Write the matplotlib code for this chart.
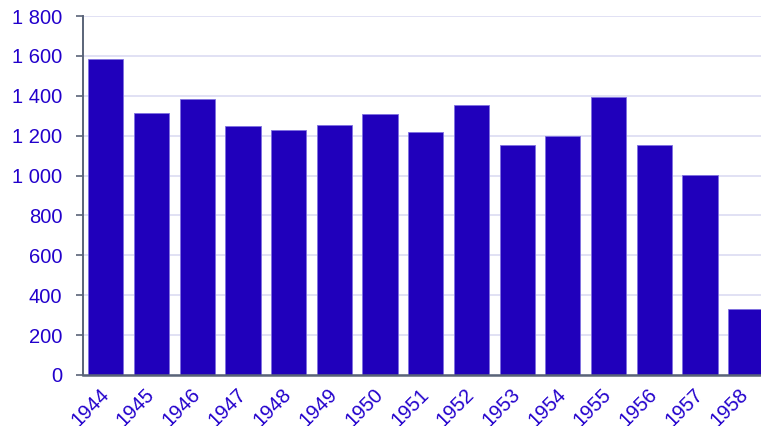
import matplotlib
matplotlib.use("Agg")
import matplotlib.pyplot as plt
from matplotlib.ticker import FuncFormatter

years = ["1944", "1945", "1946", "1947", "1948", "1949", "1950", "1951",
         "1952", "1953", "1954", "1955", "1956", "1957", "1958"]
values = [1585, 1315, 1385, 1250, 1230, 1255, 1310, 1220,
          1353, 1153, 1198, 1392, 1153, 1003, 330]
yticks = [0, 200, 400, 600, 800, 1000, 1200, 1400, 1600, 1800]

plt.rcParams['font.family'] = ['Liberation Sans', 'DejaVu Sans']

W, H = 761, 426
fig = plt.figure(figsize=(W / 100, H / 100), dpi=100)
left, right = 83, 768.5
top, bottom = 16, 375
ax = fig.add_axes([left / W, 1 - bottom / H, (right - left) / W, (bottom - top) / H])

bar_color = "#2000bb"
label_color = "#2200cc"
ax.bar(range(len(years)), values, width=0.77, color=bar_color,
       edgecolor="#7f70e0", linewidth=0.6, zorder=3)

ax.set_xlim(-0.5, len(years) - 0.5)
ax.set_ylim(0, 1800)
ax.set_yticks(yticks)
ax.yaxis.set_major_formatter(FuncFormatter(lambda v, p: f"{int(v):,}".replace(",", " ")))
ax.grid(axis='y', color="#dcdcf2", linewidth=1.2, zorder=0)

ax.set_xticks(range(len(years)))
ax.set_xticklabels(years, rotation=45, ha='right', va='center', rotation_mode='anchor')

for s in ['top', 'right']:
    ax.spines[s].set_visible(False)
ax.spines['left'].set_color("#5a6478")
ax.spines['left'].set_linewidth(1.4)
ax.spines['bottom'].set_color("#5a6478")
ax.spines['bottom'].set_linewidth(1.8)
ax.spines['bottom'].set_zorder(4)

ax.tick_params(axis='y', length=5, width=1.2, color="#5a6478",
               labelcolor=label_color, labelsize=14.5, pad=10)
ax.tick_params(axis='x', length=0, labelcolor=label_color, labelsize=14.5, pad=12)

fig.savefig("out.png", dpi=100)
